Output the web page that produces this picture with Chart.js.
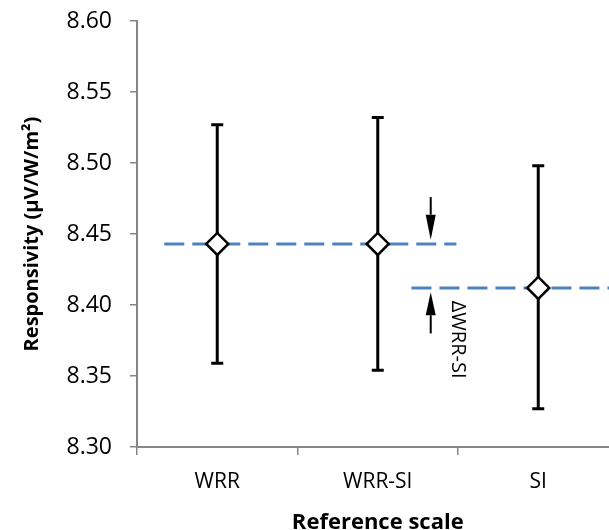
<!DOCTYPE html>
<html>
<head>
<meta charset="utf-8">
<script src="https://cdn.jsdelivr.net/npm/chart.js@4"></script>
<style>
  html, body { margin: 0; padding: 0; background: #fff; overflow: hidden; }
  #wrap { width: 609px; height: 530px; overflow: hidden; }
</style>
</head>
<body>
<div id="wrap"><canvas id="chart" width="632" height="530"></canvas></div>
<script>
// ---- data ----
const categories = ['WRR', 'WRR-SI', 'SI'];
const means = [8.443, 8.443, 8.412];
const upper = [8.527, 8.532, 8.498];
const lower = [8.359, 8.354, 8.327];
const yTicks = [8.30, 8.35, 8.40, 8.45, 8.50, 8.55, 8.60];

// dashed reference levels (x in category index units)
const refLevels = [8.443, 8.412];
const refStart = [-0.33, 1.21];
const refEnd = [1.49, 2.5];

// ΔWRR-SI marker
const arrowX = 1.33;
const arrowDown = [8.476, 8.446];  // tail, tip
const arrowUp = [8.380, 8.409];    // tail, tip
const deltaLabel = 'ΔWRR-SI';
const deltaPos = [1.5, 8.403];

const AXIS = '#868686';
const BLUE = '#4f81bd';
const FONT = '"Open Sans", "Noto Sans", sans-serif';

const errorSets = categories.map((c, i) => ({
  type: 'line',
  data: [{ x: c, y: lower[i] }, { x: c, y: upper[i] }],
  borderColor: '#000',
  borderWidth: 3,
  pointStyle: 'line',
  pointRadius: 6,
  pointBorderWidth: 3,
  pointBorderColor: '#000',
  xAxisID: 'x',
  order: 2,
}));

const refSets = refLevels.map((lvl, i) => ({
  type: 'line',
  data: [{ x: refStart[i], y: lvl }, { x: refEnd[i], y: lvl }],
  borderColor: BLUE,
  borderWidth: 3,
  borderDash: [20, 8],
  pointRadius: 0,
  xAxisID: 'x2',
  order: 3,
}));

const deltaMarker = {
  id: 'deltaMarker',
  afterDatasetsDraw(chart) {
    const { ctx } = chart;
    const x2 = chart.scales.x2, y = chart.scales.y;
    const ax = x2.getPixelForValue(arrowX);
    const drawArrow = (tail, tip, headLen) => {
      const t = y.getPixelForValue(tail), p = y.getPixelForValue(tip);
      const dir = p > t ? 1 : -1;
      const headW = 5;
      ctx.save();
      ctx.strokeStyle = '#000';
      ctx.fillStyle = '#000';
      ctx.lineWidth = 2;
      ctx.beginPath();
      ctx.moveTo(ax, t);
      ctx.lineTo(ax, p - dir * headLen);
      ctx.stroke();
      ctx.beginPath();
      ctx.moveTo(ax, p);
      ctx.lineTo(ax - headW, p - dir * headLen);
      ctx.lineTo(ax + headW, p - dir * headLen);
      ctx.closePath();
      ctx.fill();
      ctx.restore();
    };
    drawArrow(arrowDown[0], arrowDown[1], 25);
    drawArrow(arrowUp[0], arrowUp[1], 23);

    ctx.save();
    ctx.translate(x2.getPixelForValue(deltaPos[0]), y.getPixelForValue(deltaPos[1]));
    ctx.rotate(Math.PI / 2);
    ctx.font = '20px ' + FONT;
    ctx.fillStyle = '#000';
    ctx.textAlign = 'left';
    ctx.textBaseline = 'middle';
    ctx.fillText(deltaLabel, 0, 0);
    ctx.restore();
  },
};

new Chart(document.getElementById('chart'), {
  data: {
    labels: categories,
    datasets: [
      {
        type: 'line',
        data: categories.map((c, i) => ({ x: c, y: means[i] })),
        showLine: false,
        pointStyle: 'rectRot',
        pointRadius: 11,
        pointBorderWidth: 2.5,
        pointBorderColor: '#000',
        pointBackgroundColor: '#fff',
        xAxisID: 'x',
        order: 1,
      },
      ...errorSets,
      ...refSets,
    ],
  },
  options: {
    responsive: false,
    devicePixelRatio: 1,
    animation: false,
    layout: { padding: { left: 0, top: 21, right: 4, bottom: 0 } },
    plugins: { legend: { display: false }, tooltip: { enabled: false } },
    scales: {
      x: {
        type: 'category',
        offset: true,
        afterFit: s => { s.height = 83; },
        grid: { offset: true, drawOnChartArea: false, color: AXIS, lineWidth: 1.5, tickLength: 8 },
        border: { color: AXIS, width: 2 },
        ticks: { color: '#000', font: { family: FONT, size: 21 }, padding: 14 },
        title: { display: true, text: 'Reference scale', color: '#000', font: { family: FONT, size: 22, weight: 'bold' }, padding: { top: 0, bottom: -6 } },
      },
      x2: { type: 'linear', display: false, min: -0.5, max: 2.5 },
      y: {
        min: 8.3,
        max: 8.6,
        afterFit: s => { s.width = 137; s.paddingTop = 0; s.paddingBottom = 0; },
        afterBuildTicks: s => { s.ticks = yTicks.map(v => ({ value: v })); },
        grid: { drawOnChartArea: false, color: AXIS, lineWidth: 1.5, tickLength: 7 },
        border: { color: AXIS, width: 2 },
        ticks: { color: '#000', font: { family: FONT, size: 23 }, padding: 18, callback: v => Number(v).toFixed(2) },
        title: { display: true, text: 'Responsivity (μV/W/m²)', color: '#000', font: { family: FONT, size: 20, weight: 'bold' }, padding: { top: 20, bottom: 0 } },
      },
    },
  },
  plugins: [deltaMarker],
});
</script>
</body>
</html>
